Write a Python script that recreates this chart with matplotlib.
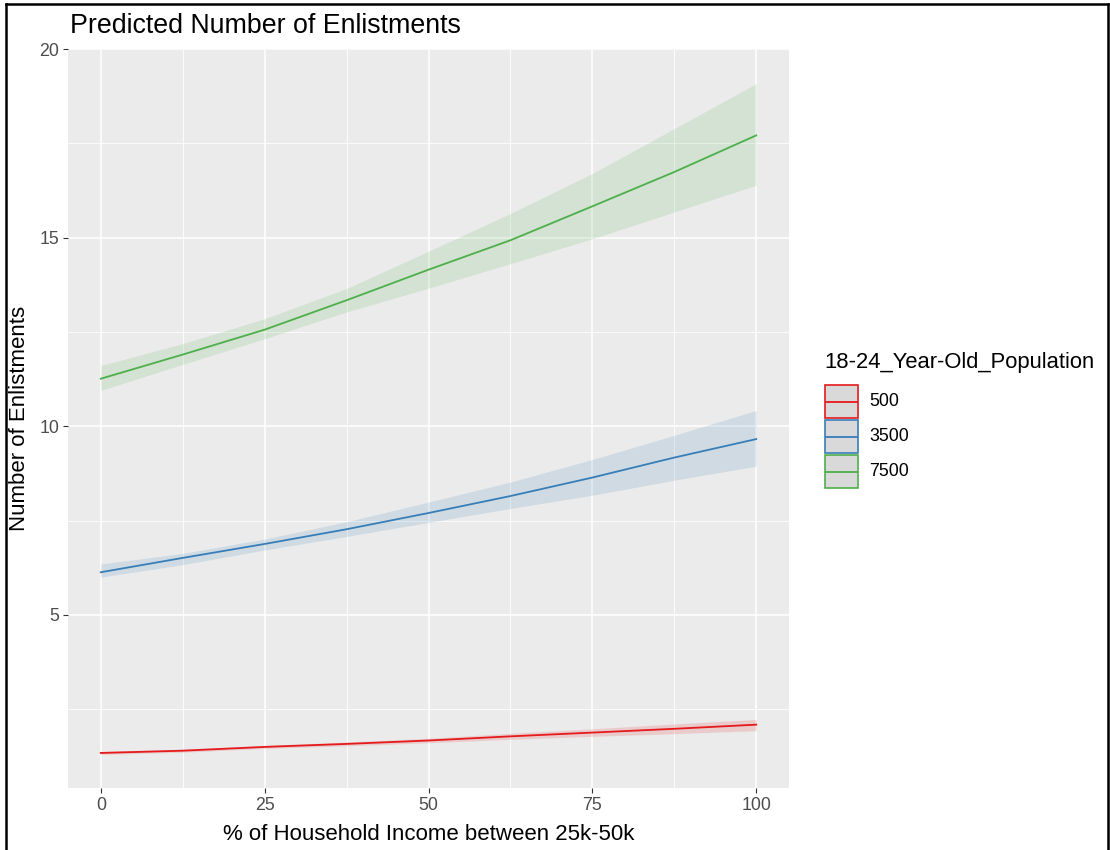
import matplotlib
matplotlib.use("Agg")
import matplotlib.pyplot as plt
from matplotlib.patches import Rectangle
from matplotlib.lines import Line2D
import numpy as np

plt.rcParams['font.family'] = ['Liberation Sans', 'DejaVu Sans']

# % of household income between 25k-50k
income_pct = [0, 12.5, 25, 37.5, 50, 62.5, 75, 87.5, 100]

# predicted enlistments (fit, lower, upper) per 18-24 population level
pop_levels = ["500", "3500", "7500"]
fit_500 = [1.34, 1.40, 1.50, 1.58, 1.67, 1.78, 1.88, 1.98, 2.09]
lo_500 = [1.30, 1.36, 1.46, 1.53, 1.61, 1.70, 1.78, 1.85, 1.93]
hi_500 = [1.38, 1.44, 1.54, 1.63, 1.73, 1.86, 1.98, 2.11, 2.23]

fit_3500 = [6.13, 6.51, 6.88, 7.27, 7.70, 8.15, 8.64, 9.17, 9.66]
lo_3500 = [6.00, 6.33, 6.72, 7.08, 7.45, 7.82, 8.17, 8.57, 8.94]
hi_3500 = [6.35, 6.63, 7.01, 7.47, 7.99, 8.52, 9.12, 9.76, 10.42]

fit_7500 = [11.26, 11.90, 12.56, 13.34, 14.15, 14.93, 15.83, 16.74, 17.71]
lo_7500 = [10.95, 11.64, 12.32, 13.03, 13.66, 14.31, 14.97, 15.68, 16.39]
hi_7500 = [11.61, 12.19, 12.85, 13.65, 14.64, 15.64, 16.70, 17.89, 19.08]

x_ticks = [0, 25, 50, 75, 100]
y_ticks = [5, 10, 15, 20]

colors = ["#E41A1C", "#377EB8", "#4DAF4A"]
series = [(fit_500, lo_500, hi_500), (fit_3500, lo_3500, hi_3500),
          (fit_7500, lo_7500, hi_7500)]

W, H = 1110, 850
fig = plt.figure(figsize=(W / 100, H / 100), dpi=100)
fig.patch.set_facecolor("white")


def fx(px):
    return px / W


def fy(py):
    return 1 - py / H


L, R, T, B = 68, 789, 49, 788
ax = fig.add_axes([fx(L), fy(B), fx(R) - fx(L), fy(T) - fy(B)])
ax.set_facecolor("#EBEBEB")
for s in ax.spines.values():
    s.set_visible(False)

for (fit, lo, hi), c in zip(series, colors):
    ax.fill_between(income_pct, lo, hi, color=c, alpha=0.15, linewidth=0, zorder=2)
    ax.plot(income_pct, fit, color=c, lw=1.3, zorder=3)

# ggplot-style expansion of continuous scales
xmin, xmax = min(income_pct), max(income_pct)
xr = xmax - xmin
ax.set_xlim(xmin - 0.05 * xr, xmax + 0.05 * xr)
all_lo = min(min(lo_500), min(lo_3500), min(lo_7500))
all_hi = max(max(hi_500), max(hi_3500), max(hi_7500))
yr = all_hi - all_lo
ax.set_ylim(all_lo - 0.05 * yr, all_hi + 0.05 * yr)

ax.set_xticks(x_ticks)
ax.set_yticks(y_ticks)
ax.set_xticks([12.5, 37.5, 62.5, 87.5], minor=True)
ax.set_yticks([2.5, 7.5, 12.5, 17.5], minor=True)
ax.grid(which="major", color="white", lw=1.1, zorder=0)
ax.grid(which="minor", color="white", lw=0.6, zorder=0)
ax.set_axisbelow(True)
ax.tick_params(which="major", length=3.3, width=0.8, color="#333333",
               labelcolor="#4D4D4D", labelsize=12.8, pad=3)
ax.tick_params(which="minor", length=0)

# titles
fig.text(fx(70), fy(33), "Predicted Number of Enlistments", fontsize=19.3,
         color="black", ha="left", va="baseline")
fig.text(fx((L + R) / 2), fy(834), "% of Household Income between 25k-50k",
         fontsize=16, color="black", ha="center", va="center")
fig.text(fx(20), fy((T + B) / 2), "Number of Enlistments", fontsize=16,
         color="black", ha="center", va="center", rotation=90)

# legend
fig.text(fx(824), fy(363), "18-24_Year-Old_Population", fontsize=15.8,
         color="black", ha="left", va="center")
key_w, key_h = 33, 33
key_tops = [385, 420, 455]
for lab, c, top in zip(pop_levels, colors, key_tops):
    fig.add_artist(Rectangle((fx(825), fy(top + key_h)), fx(key_w), key_h / H,
                             transform=fig.transFigure, facecolor="#D9D9D9",
                             edgecolor=c, lw=1.2))
    ymid = fy(top + key_h / 2)
    fig.add_artist(Line2D([fx(826), fx(825 + key_w - 1)], [ymid, ymid],
                          transform=fig.transFigure, color=c, lw=1.3))
    fig.text(fx(869), ymid, lab, fontsize=12.8, color="black",
             ha="left", va="center")

# outer frame
for xs, ys in [([fx(6), fx(6)], [fy(4), 0]),
               ([fx(6), fx(1108)], [fy(4), fy(4)]),
               ([fx(1108), fx(1108)], [fy(4), 0])]:
    fig.add_artist(Line2D(xs, ys, transform=fig.transFigure, color="black", lw=1.8))

fig.savefig("out.png", dpi=100)
